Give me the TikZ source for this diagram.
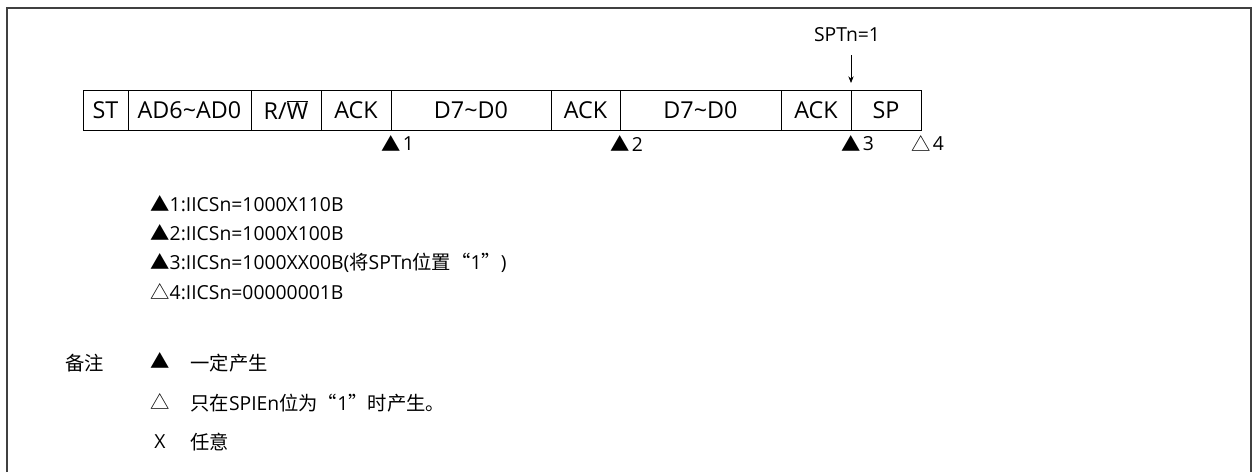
\documentclass[tikz,border=0pt]{standalone}
\usepackage{fontspec}
\setmainfont{Open Sans}
\newfontfamily\cjk{Noto Sans CJK SC}
\usetikzlibrary{positioning,arrows.meta}
\tikzset{
	x=0.75pt, y=-0.75pt,
	>={Stealth[length=5pt,width=4pt]},
	txt/.style = {inner sep=0pt, font=\fontsize{14.5}{17}\selectfont},
	field/.style = {draw, inner sep=0pt, outer sep=0pt, minimum height=30pt,
		font=\fontsize{17.5}{20}\selectfont},
	legend/.style = {txt, anchor=west},
}

\begin{document}
\begin{tikzpicture}[line width=0.6pt]
	\useasboundingbox (0,0) rectangle (1253,472);
	% frame, open at the bottom
	\draw[black!75, line width=0.9pt] (7,472) |- (1251,8) -- (1251,472);

	\node (st) [field, anchor=west, minimum width=33.75pt] at (83,110) {ST};
	\node (ad) [field, right=0pt of st, minimum width=92.25pt] {AD6\textasciitilde AD0};
	\node (rw) [field, right=0pt of ad, minimum width=52.5pt] {R/$\overline{\mbox{W}}$};
	\node (ack1) [field, right=0pt of rw, minimum width=52.5pt] {ACK};
	\node (d1) [field, right=0pt of ack1, minimum width=120pt] {D7\textasciitilde D0};
	\node (ack2) [field, right=0pt of d1, minimum width=51.75pt] {ACK};
	\node (d2) [field, right=0pt of ack2, minimum width=120.75pt] {D7\textasciitilde D0};
	\node (ack3) [field, right=0pt of d2, minimum width=52.5pt] {ACK};
	\node (sp) [field, right=0pt of ack3, minimum width=52.5pt] {SP};

	\node (sptn) [txt] at (847,35) {SPTn=1};
	\coordinate (arrowtop) at (851,55);
	\coordinate (arrowend) at (851,83);
	\draw[->] (arrowtop) -- (arrowend);

	\foreach \x/\n/\s in {391/1/▲, 620/2/▲, 851/3/▲, 921/4/△} {
		\node (tri\n) [txt, font=\cjk\fontsize{14.5}{17}\selectfont] at (\x,144) {\s};
		\node (num\n) [txt, right=1pt of tri\n] {\n};
	}

	\node (l1) [legend] at (150,204) {{\cjk ▲}1:IICSn=1000X110B};
	\node (l2) [legend] at (150,233) {{\cjk ▲}2:IICSn=1000X100B};
	\node (l3) [legend] at (150,263) {{\cjk ▲}3:IICSn=1000XX00B({\cjk 将}SPTn{\cjk 位置“}1{\cjk ”})};
	\node (l4) [legend] at (150,292) {{\cjk △}4:IICSn=00000001B};

	\node (note) [legend, font=\cjk\fontsize{14.5}{17}\selectfont] at (65,363) {备注};
	\node (k1) [txt, font=\cjk\fontsize{14.5}{17}\selectfont] at (160,361) {▲};
	\node (v1) [legend, font=\cjk\fontsize{14.5}{17}\selectfont] at (190,363) {一定产生};
	\node (k2) [txt, font=\cjk\fontsize{14.5}{17}\selectfont] at (160,402) {△};
	\node (v2) [legend] at (190,403) {{\cjk 只在}SPIEn{\cjk 位为“}1{\cjk ”时产生。}};
	\node (k3) [txt] at (160,442) {X};
	\node (v3) [legend, font=\cjk\fontsize{14.5}{17}\selectfont] at (190,442) {任意};
\end{tikzpicture}
\end{document}
